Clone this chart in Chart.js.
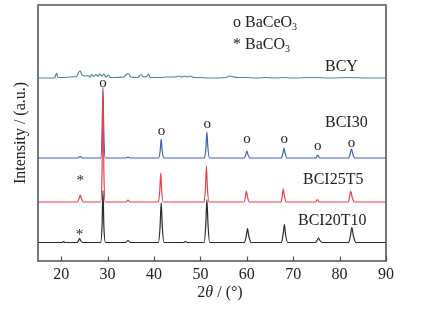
<!DOCTYPE html>
<html>
<head>
<meta charset="utf-8">
<script src="https://cdn.jsdelivr.net/npm/chart.js@4/dist/chart.umd.min.js"></script>
<style>
  html, body { margin: 0; padding: 0; background: #fff; }
  #wrap { width: 426px; height: 324px; }
</style>
</head>
<body>
<div id="wrap"><canvas id="xrd" width="426" height="324"></canvas></div>
<script>
// --- Données (2θ en degrés, intensité en u.a. au-dessus de la ligne de base) ---
const seriesNames = ['BCY', 'BCI30', 'BCI25T5', 'BCI20T10'];
const seriesColors = ['#4a8a90', '#3a62b6', '#e6404a', '#2b2b2b'];
const seriesOffsets = [183, 103, 59, 18.5];

const bcyTheta = [15, 18.6, 19.0, 19.3, 20.5, 22.0, 23.3, 23.8, 24.1, 24.5, 25.3, 25.8, 26.2, 26.6, 27.0, 27.5, 27.9, 28.3, 28.7, 29.2, 29.6, 30.2, 30.6, 31.5, 33.5, 34.1, 34.5, 35.0, 36.5, 37.3, 37.7, 38.4, 38.8, 39.2, 41.0, 43.0, 44.5, 45.4, 46.0, 46.6, 47.2, 47.8, 48.6, 50.0, 52.0, 55.5, 56.3, 57.2, 58.0, 60.0, 62.0, 64.0, 66.0, 68.0, 70.0, 74.0, 78.0, 82.0, 86.0, 90];
const bcyInt   = [0, 0, 5, 0.5, 0.5, 1, 1.5, 6, 7, 3, 2, 2.5, 1, 3.5, 1.5, 3.5, 1.5, 4, 2, 4, 1, 3, 0.5, 0.5, 1, 4, 4.5, 1, 0.5, 3.5, 1, 1.5, 4, 0.5, 0.5, 1, 1, 2, 1, 2, 1, 2, 0.5, 0.5, 0, 0.5, 2, 1, 0.5, 0.5, 0, 0.5, 0, 0.5, 0, 0.5, 0, 0.5, 0, 0];

const bci30Theta = [15, 23.6, 24.1, 24.6, 28.5, 28.8, 29.0, 29.2, 29.5, 34.0, 34.4, 34.8, 41.0, 41.35, 41.55, 41.75, 42.1, 50.9, 51.2, 51.4, 51.6, 51.95, 59.45, 59.8, 60.0, 60.25, 60.65, 67.45, 67.8, 68.0, 68.25, 68.65, 74.9, 75.3, 75.7, 81.95, 82.3, 82.55, 82.85, 83.3, 90];
const bci30Int   = [0, 0, 1.5, 0, 0, 22, 68, 22, 0, 0, 0.8, 0, 0, 8, 19, 8, 0, 0, 11, 26, 11, 0, 0, 3.5, 7, 3.5, 0, 0, 5, 10, 5, 0, 0, 3, 0, 0, 4.5, 9, 4, 0, 0];

const bci25Theta = [15, 23.5, 23.85, 24.1, 24.35, 24.8, 28.5, 28.8, 29.0, 29.2, 29.5, 34.0, 34.4, 34.8, 40.95, 41.25, 41.45, 41.65, 42.0, 50.8, 51.1, 51.3, 51.5, 51.85, 59.35, 59.7, 59.9, 60.15, 60.55, 67.35, 67.65, 67.85, 68.1, 68.5, 74.8, 75.2, 75.6, 81.85, 82.15, 82.4, 82.7, 83.15, 90];
const bci25Int   = [0, 0, 3.5, 7, 3.5, 0, 0, 30, 115, 30, 0, 0, 2, 0, 0, 12, 29, 12, 0, 0, 15, 36, 15, 0, 0, 5, 11, 5, 0, 0, 6, 13, 6, 0, 0, 2.5, 0, 0, 5, 11, 5, 0, 0];

const bci20Theta = [15, 20.2, 20.5, 20.8, 23.4, 23.75, 23.95, 24.2, 24.6, 28.5, 28.8, 29.0, 29.2, 29.55, 33.9, 34.4, 34.9, 40.95, 41.3, 41.55, 41.8, 42.15, 46.4, 46.8, 47.2, 50.8, 51.15, 51.4, 51.65, 52.0, 59.45, 59.9, 60.15, 60.4, 60.95, 67.45, 67.85, 68.1, 68.35, 68.85, 74.8, 75.2, 75.45, 75.75, 76.3, 81.95, 82.35, 82.65, 82.95, 83.55, 90];
const bci20Int   = [0, 0, 1, 0, 0, 2, 4, 2, 0, 0, 16, 52, 16, 0, 0, 2, 0, 0, 15, 40, 15, 0, 0, 1, 0, 0, 17, 43, 17, 0, 0, 7, 14, 7, 0, 0, 9, 18, 8, 0, 0, 2.5, 4.5, 2, 0, 0, 7, 15, 7, 0, 0];

const xTicks = [20, 30, 40, 50, 60, 70, 80, 90];

// Marqueurs de phase (o = BaCeO3, * = BaCO3), en coordonnées des axes
const ceoMarkTheta = [29.0, 41.6, 51.45, 60.05, 68.05, 75.3, 82.55];
const ceoMarkY     = [178, 130, 137, 122, 122, 115, 118];
const carbMarkTheta = [24.1, 23.95];
const carbMarkY     = [82, 28];

const SERIF = "'Liberation Serif', 'Times New Roman', serif";

function toPoints(theta, values, offset) {
  return theta.map((t, i) => ({ x: t, y: values[i] + offset }));
}

const allTheta = [bcyTheta, bci30Theta, bci25Theta, bci20Theta];
const allInt = [bcyInt, bci30Int, bci25Int, bci20Int];
const drawOrder = [3, 1, 0, 2];

const datasets = seriesNames.map((name, i) => ({
  label: name,
  data: toPoints(allTheta[i], allInt[i], seriesOffsets[i]),
  borderColor: seriesColors[i],
  borderWidth: 1.2,
  pointRadius: 0,
  cubicInterpolationMode: 'monotone',
  order: drawOrder[i]
}));

// --- Cadre, graduations internes et textes ---
const decorPlugin = {
  id: 'decor',
  afterDraw(chart) {
    const ctx = chart.ctx;
    const area = chart.chartArea;
    const xs = chart.scales.x;
    const ys = chart.scales.y;
    ctx.save();

    // cadre
    ctx.strokeStyle = '#4d4d4d';
    ctx.lineWidth = 1.5;
    ctx.strokeRect(area.left, area.top, area.right - area.left, area.bottom - area.top);

    // graduations vers l'intérieur
    ctx.lineWidth = 1.2;
    xTicks.forEach(v => {
      const px = Math.round(xs.getPixelForValue(v)) + 0.5;
      ctx.beginPath();
      ctx.moveTo(px, area.bottom);
      ctx.lineTo(px, area.bottom - 4.5);
      ctx.stroke();
    });

    ctx.fillStyle = '#222';
    ctx.textBaseline = 'middle';

    // marqueurs o et *
    ctx.textAlign = 'center';
    ctx.font = '15px ' + SERIF;
    ceoMarkTheta.forEach((t, i) => {
      ctx.fillText('o', xs.getPixelForValue(t), ys.getPixelForValue(ceoMarkY[i]));
    });
    carbMarkTheta.forEach((t, i) => {
      ctx.fillText('*', xs.getPixelForValue(t), ys.getPixelForValue(carbMarkY[i]) + 2);
    });

    // légende des phases
    ctx.textAlign = 'left';
    ctx.font = '16px ' + SERIF;
    let w = ctx.measureText('o BaCeO').width;
    ctx.fillText('o BaCeO', 233, 23);
    ctx.font = '10px ' + SERIF;
    ctx.fillText('3', 233 + w, 27);
    ctx.font = '16px ' + SERIF;
    w = ctx.measureText('* BaCO').width;
    ctx.fillText('* BaCO', 233, 45);
    ctx.font = '10px ' + SERIF;
    ctx.fillText('3', 233 + w, 49);

    // noms des échantillons
    ctx.font = '16px ' + SERIF;
    ctx.fillText('BCY', 325, 67);
    ctx.fillText('BCI30', 325, 123);
    ctx.fillText('BCI25T5', 303, 180);
    ctx.fillText('BCI20T10', 298, 221);

    // titre de l'axe x : 2θ / (°)
    const parts = [['2', ''], ['θ', 'italic '], [' / (°)', '']];
    let total = 0;
    parts.forEach(p => { ctx.font = p[1] + '16px ' + SERIF; total += ctx.measureText(p[0]).width; });
    let x0 = 220 - total / 2;
    parts.forEach(p => {
      ctx.font = p[1] + '16px ' + SERIF;
      ctx.fillText(p[0], x0, 293);
      x0 += ctx.measureText(p[0]).width;
    });

    // titre de l'axe y
    ctx.translate(21, (area.top + area.bottom) / 2);
    ctx.rotate(-Math.PI / 2);
    ctx.textAlign = 'center';
    ctx.font = '16px ' + SERIF;
    ctx.fillText('Intensity / (a.u.)', 0, 0);

    ctx.restore();
  }
};

const chart = new Chart(document.getElementById('xrd'), {
  type: 'line',
  data: { datasets },
  options: {
    responsive: false,
    animation: false,
    events: [],
    layout: { padding: { left: 0, top: 5, right: 40, bottom: 0 } },
    plugins: {
      legend: { display: false },
      tooltip: { enabled: false }
    },
    scales: {
      x: {
        type: 'linear',
        min: 15,
        max: 90,
        grid: { display: false, drawTicks: false, tickLength: 0 },
        border: { display: false },
        afterBuildTicks: s => { s.ticks = xTicks.map(v => ({ value: v })); },
        afterFit: s => { s.height = 63; },
        ticks: {
          padding: 4,
          color: '#222',
          font: { family: SERIF, size: 16 }
        }
      },
      y: {
        type: 'linear',
        min: 0,
        max: 256,
        grid: { display: false },
        border: { display: false },
        ticks: { display: false },
        afterFit: s => { s.width = 38; }
      }
    }
  },
  plugins: [decorPlugin]
});
</script>
</body>
</html>
